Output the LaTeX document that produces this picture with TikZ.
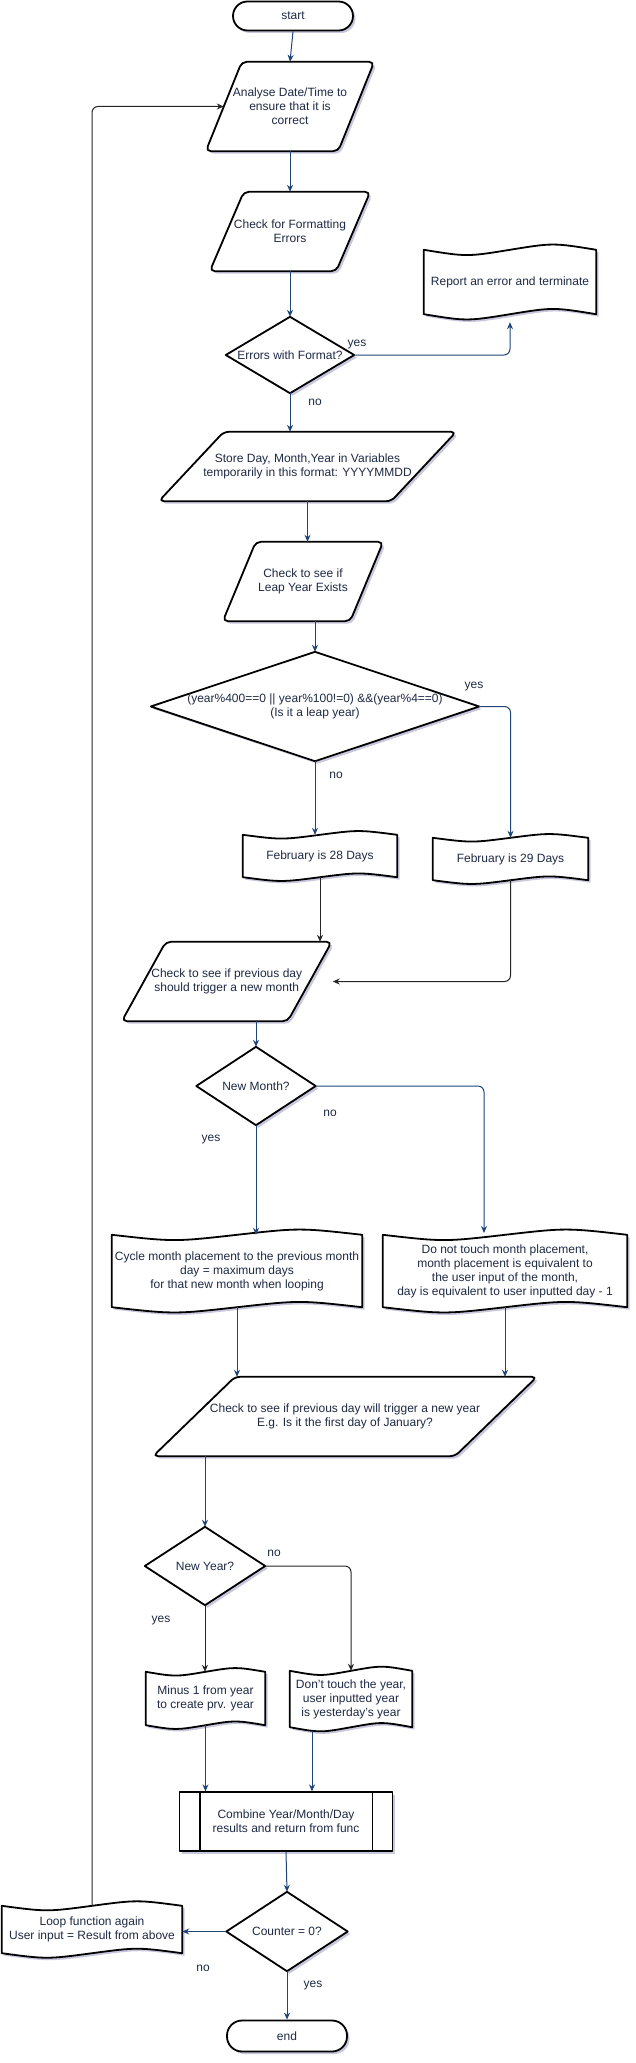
\documentclass[tikz,border=0pt]{standalone}
\usepackage{fontspec}
\setmainfont{Liberation Sans}
\usetikzlibrary{arrows.meta,calc,shadows}
\pgfdeclarelayer{background}
\pgfsetlayers{background,main}
\definecolor{linkc}{HTML}{1F4477}
\definecolor{txtc}{HTML}{1E2A44}
\tikzset{
  txt/.style={font=\fontsize{12}{14}\selectfont, text=txtc, align=center, inner sep=0pt},
  shp/.style={draw=black, line width=1.8pt, fill=white, line join=round,
    drop shadow={shadow xshift=2.5pt, shadow yshift=-2.5pt, fill=black!60!blue, opacity=0.22}},
  bl/.style={draw=linkc, line width=1pt, -{Stealth[length=7pt,width=6pt]}, rounded corners=6pt},
  bk/.style={bl, draw=black!85},
  lab/.style={txt}
}
\newcommand\parash[2]{\begin{pgfonlayer}{background}\path[shp,rounded corners=5pt]
  ([xshift=#2*0.5pt]#1.north west) -- ([xshift=#2*0.5pt]#1.north east) --
  ([xshift=-#2*0.5pt]#1.south east) -- ([xshift=-#2*0.5pt]#1.south west) -- cycle;\end{pgfonlayer}}
\newcommand\diash[1]{\begin{pgfonlayer}{background}\path[shp]
  (#1.north) -- (#1.east) -- (#1.south) -- (#1.west) -- cycle;\end{pgfonlayer}}
\newcommand\tapesh[2]{\begin{pgfonlayer}{background}\path[shp]
  (#1.north west) .. controls ($(#1.north west)!0.5!(#1.north)+(0pt,-#2pt)$) .. (#1.north)
  .. controls ($(#1.north)!0.5!(#1.north east)+(0pt,#2pt)$) .. (#1.north east)
  -- (#1.south east) .. controls ($(#1.south)!0.5!(#1.south east)+(0pt,#2pt)$) .. (#1.south)
  .. controls ($(#1.south west)!0.5!(#1.south)+(0pt,-#2pt)$) .. (#1.south west) -- cycle;\end{pgfonlayer}}
\begin{document}
\begin{tikzpicture}[x=1pt,y=-1pt]
\useasboundingbox (0,0) rectangle (635,2063);

% ---------- shapes ----------
\node[txt, shp, rounded corners=14.5pt, minimum width=120pt, minimum height=29pt] (start) at (293,16) {start};

\node[txt, minimum width=132pt, minimum height=89pt] (analyse) at (290,106.5) {Analyse Date/Time to\\ensure that it is\\correct};
\parash{analyse}{36}

\node[txt, minimum width=126pt, minimum height=79pt] (fmt) at (290,231.5) {Check for Formatting\\Errors};
\parash{fmt}{34}

\node[txt, minimum width=128pt, minimum height=76pt] (err) at (290,355) {Errors with Format?};
\diash{err}

\node[txt, minimum width=172pt, minimum height=64pt] (report) at (510,282) {Report an error and terminate};
\tapesh{report}{7}

\node[txt, minimum width=232pt, minimum height=69pt] (store) at (307.5,466.5) {Store Day, Month,Year in Variables\\temporarily in this format: YYYYMMDD};
\parash{store}{65}

\node[txt, minimum width=127pt, minimum height=79pt] (leap) at (303,581.5) {Check to see if\\Leap Year Exists};
\parash{leap}{33}

\node[txt, minimum width=328pt, minimum height=109pt] (big) at (315,706.5) {(year\%400==0 || year\%100!=0) \&\&(year\%4==0)\\(Is it a leap year)};
\diash{big}

\node[txt, minimum width=154pt, minimum height=42pt] (feb28) at (320,856) {February is 28 Days};
\tapesh{feb28}{5}
\node[txt, minimum width=155pt, minimum height=42pt] (feb29) at (510.5,859) {February is 29 Days};
\tapesh{feb29}{5}

\node[txt, minimum width=165.5pt, minimum height=79pt] (prev) at (226.75,981.5) {Check to see if previous day\\should trigger a new month};
\parash{prev}{44}

\node[txt, minimum width=119pt, minimum height=78pt] (nm) at (256,1086) {New Month?};
\diash{nm}

\node[txt, minimum width=250pt, minimum height=72pt] (cycle) at (237,1271) {Cycle month placement to the previous month\\day = maximum days\\for that new month when looping};
\tapesh{cycle}{7}

\node[txt, minimum width=244pt, minimum height=72pt] (donot) at (505,1271) {Do not touch month placement,\\month placement is equivalent to\\the user input of the month,\\day is equivalent to user inputted day - 1};
\tapesh{donot}{7}

\node[txt, minimum width=301.5pt, minimum height=79pt] (cny) at (345,1416.5) {Check to see if previous day will trigger a new year\\E.g. Is it the first day of January?};
\parash{cny}{82}

\node[txt, minimum width=120pt, minimum height=78pt] (ny) at (205,1566) {New Year?};
\diash{ny}

\node[txt, minimum width=119pt, minimum height=53pt] (minus) at (205.5,1698.5) {Minus 1 from year\\to create prv. year};
\tapesh{minus}{5}
\node[txt, minimum width=122pt, minimum height=56pt] (dtt) at (351,1699) {Don't touch the year,\\user inputted year\\is yesterday's year};
\tapesh{dtt}{5.5}

\node[txt, shp, line width=1.3pt, minimum width=213pt, minimum height=59pt] (comb) at (286,1821.5) {Combine Year/Month/Day\\results and return from func};
\draw[line width=1.3pt] ([xshift=21pt]comb.north west) -- ([xshift=21pt]comb.south west);
\draw[line width=1.3pt] ([xshift=-21pt]comb.north east) -- ([xshift=-21pt]comb.south east);

\node[txt, minimum width=121pt, minimum height=79pt] (cnt) at (287,1931.5) {Counter = 0?};
\diash{cnt}

\node[txt, minimum width=180pt, minimum height=47pt] (loop) at (92,1929.5) {Loop function again\\User input = Result from above};
\tapesh{loop}{6}

\node[txt, shp, rounded corners=15pt, minimum width=120pt, minimum height=31pt] (end) at (287,2036) {end};

% ---------- labels ----------
\node[lab] (l1) at (357,345) {yes};
\node[lab] (l2) at (315,402) {no};
\node[lab] (l3) at (474,687) {yes};
\node[lab] (l4) at (336,775) {no};
\node[lab] (l5) at (330,1113) {no};
\node[lab] (l6) at (211,1140) {yes};
\node[lab] (l7) at (274,1553) {no};
\node[lab] (l8) at (161,1620) {yes};
\node[lab] (l9) at (203,1968) {no};
\node[lab] (l10) at (313,1985) {yes};

% ---------- connectors ----------
\draw[bl] (start.south) -- (analyse.north);
\draw[bl] (analyse.south) -- (fmt.north);
\draw[bl] (fmt.south) -- (err.north);
\draw[bl] (err.east) -| ([yshift=-8pt]report.south);
\draw[bl] (err.south) -- (err.south |- store.north);
\draw[bl] (store.south) -- (store.south |- leap.north);
\draw[bl] (big.north |- leap.south) -- (big.north);
\draw[bl] (big.east) -| (feb29.north);
\draw[bl] (big.south) -- (big.south |- feb28.north);
\draw[bk] (feb28.south) -- (feb28.south |- prev.north);
\draw[bk] (feb29.south) |- ([xshift=23pt]prev.east);
\draw[bl] (nm.north |- prev.south) -- (nm.north);
\coordinate (dnin) at (484,1233);
\draw[bl] (nm.east) -| (dnin);
\draw[bl] (nm.south) -- (nm.south |- cycle.north);
\draw[bl] (cycle.south) -- (cycle.south |- cny.north);
\draw[bl] (donot.south) -- (donot.south |- cny.north);
\draw[bl] (ny.north |- cny.south) -- (ny.north);
\draw[bk] (ny.east) -| (dtt.north);
\draw[bk] (ny.south) -- (ny.south |- minus.north);
\draw[bl] (minus.south) -- (minus.south |- comb.north);
\coordinate (dttout) at (312,1731);
\draw[bl] (dttout) -- (dttout |- comb.north);
\draw[bl] (comb.south) -- (cnt.north);
\draw[bl] (cnt.west) -- (cnt.west -| loop.east);
\draw[bl] (cnt.south) -- (end.north);
\draw[bk] (loop.north) |- (analyse.west);
\end{tikzpicture}
\end{document}
